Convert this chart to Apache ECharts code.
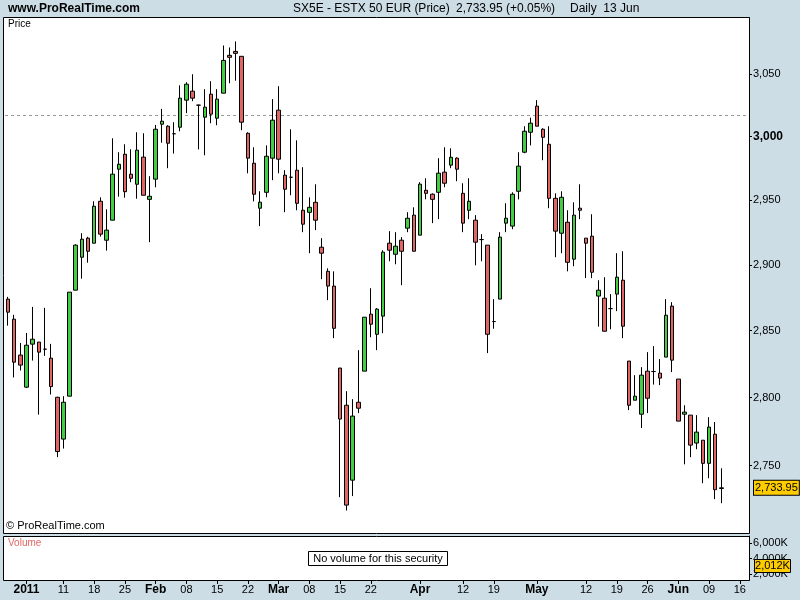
<!DOCTYPE html>
<html><head><meta charset="utf-8">
<script src="https://cdn.jsdelivr.net/npm/echarts@6/dist/echarts.min.js"></script>
<style>html,body{margin:0;padding:0;background:#CCDDE6}#c{width:800px;height:600px}</style>
</head><body><div id="c"></div>
<script>
const dates = ['2010-12-28','2010-12-29','2010-12-30','2011-01-03','2011-01-04','2011-01-05','2011-01-06','2011-01-07','2011-01-10','2011-01-11','2011-01-12','2011-01-13','2011-01-14','2011-01-17','2011-01-18','2011-01-19','2011-01-20','2011-01-21','2011-01-24','2011-01-25','2011-01-26','2011-01-27','2011-01-28','2011-01-31','2011-02-01','2011-02-02','2011-02-03','2011-02-04','2011-02-07','2011-02-08','2011-02-09','2011-02-10','2011-02-11','2011-02-14','2011-02-15','2011-02-16','2011-02-17','2011-02-18','2011-02-21','2011-02-22','2011-02-23','2011-02-24','2011-02-25','2011-02-28','2011-03-01','2011-03-02','2011-03-03','2011-03-04','2011-03-07','2011-03-08','2011-03-09','2011-03-10','2011-03-11','2011-03-14','2011-03-15','2011-03-16','2011-03-17','2011-03-18','2011-03-21','2011-03-22','2011-03-23','2011-03-24','2011-03-25','2011-03-28','2011-03-29','2011-03-30','2011-03-31','2011-04-01','2011-04-04','2011-04-05','2011-04-06','2011-04-07','2011-04-08','2011-04-11','2011-04-12','2011-04-13','2011-04-14','2011-04-15','2011-04-18','2011-04-19','2011-04-20','2011-04-21','2011-04-26','2011-04-27','2011-04-28','2011-04-29','2011-05-02','2011-05-03','2011-05-04','2011-05-05','2011-05-06','2011-05-09','2011-05-10','2011-05-11','2011-05-12','2011-05-13','2011-05-16','2011-05-17','2011-05-18','2011-05-19','2011-05-20','2011-05-23','2011-05-24','2011-05-25','2011-05-26','2011-05-27','2011-05-30','2011-05-31','2011-06-01','2011-06-02','2011-06-03','2011-06-06','2011-06-07','2011-06-08','2011-06-09','2011-06-10','2011-06-13'];
const futureDates = ['2011-06-14','2011-06-15','2011-06-16','2011-06-17'];

const opens  = [2873.8,2858.6,2831.6,2807.7,2839.8,2841.3,2836.0,2829.3,2800.2,2769.4,2801.0,2880.6,2905.8,2920.5,2916.6,2949.1,2918.9,2934.4,2974.2,2986.0,2970.3,2962.4,2983.7,2950.6,2966.4,3009.8,3008.2,3002.2,3007.4,3029.0,3036.2,3025.0,3015.4,3033.8,3014.6,3034.6,3065.1,3068.3,3064.3,3002.6,2978.9,2943.7,2956.1,2982.9,3021.0,2969.5,2967.9,2973.4,2942.1,2940.5,2948.3,2913.5,2895.0,2883.7,2821.9,2794.3,2739.5,2796.5,2819.6,2862.4,2847.2,2860.9,2916.6,2908.1,2918.9,2928.2,2938.3,2922.8,2957.7,2954.6,2956.1,2971.9,2977.4,2982.9,2955.3,2942.1,2934.4,2919.4,2915.1,2856.8,2873.8,2932.1,2929.8,2956.9,2987.6,3003.4,3024.2,3005.8,2993.9,2951.4,2924.3,2932.8,2904.3,2943.7,2920.5,2922.0,2876.1,2874.5,2866.6,2877.6,2888.2,2827.1,2798.0,2787.7,2819.6,2819.3,2818.1,2830.1,2868.5,2813.7,2787.7,2787.0,2766.5,2768.6,2751.7,2773.0,2733.5];
const highs  = [2875.5,2861.9,2840.7,2848.2,2867.9,2841.5,2867.2,2840.0,2800.5,2801.0,2879.1,2915.8,2924.3,2921.5,2949.1,2952.2,2942.9,2998.6,2987.6,2993.9,2989.9,3003.4,3002.6,2968.7,3009.2,3022.0,3009.0,3011.4,3040.9,3043.4,3049.8,3025.3,3037.8,3044.2,3037.8,3073.1,3071.5,3076.4,3064.3,3003.4,2991.5,2956.9,2993.0,3029.8,3040.2,2973.5,3005.8,2997.0,2975.8,2952.2,2962.4,2920.5,2897.3,2895.0,2822.0,2804.7,2798.8,2835.3,2860.1,2882.1,2867.0,2911.2,2925.9,2925.1,2921.3,2940.6,2944.4,2964.0,2967.1,2955.3,2982.9,2991.5,2990.7,2983.6,2963.2,2967.1,2938.3,2923.6,2915.1,2873.8,2925.1,2947.6,2956.1,2987.6,3008.2,3015.0,3029.0,3006.6,3008.2,2955.3,2956.9,2942.1,2948.3,2962.4,2920.5,2939.0,2888.2,2890.5,2877.6,2908.9,2910.4,2827.1,2816.6,2822.6,2833.8,2838.3,2828.6,2873.8,2871.5,2813.7,2794.3,2787.0,2787.0,2768.6,2785.5,2781.9,2748.1];
const lows   = [2853.7,2814.9,2820.1,2807.0,2827.5,2787.4,2831.0,2802.2,2756.2,2762.5,2801.0,2880.6,2889.4,2901.6,2916.6,2921.7,2910.9,2934.4,2952.7,2951.9,2964.0,2951.1,2953.8,2917.4,2960.0,2995.1,2975.0,2986.5,3004.2,3018.6,3028.2,2989.8,2985.2,3010.6,3009.0,3034.6,3042.6,3044.6,3005.0,2971.0,2949.0,2929.8,2952.2,2965.6,2971.0,2940.6,2953.8,2942.1,2925.1,2908.9,2926.7,2889.0,2873.0,2844.3,2727.2,2717.6,2728.0,2788.5,2819.6,2845.0,2835.3,2848.0,2902.7,2900.4,2884.4,2925.1,2910.4,2922.8,2950.6,2932.1,2935.2,2960.1,2975.0,2964.8,2925.1,2935.2,2899.6,2902.7,2833.1,2851.4,2873.8,2925.1,2927.4,2950.6,2986.8,2993.0,3008.2,2981.3,2943.7,2905.8,2908.9,2895.0,2898.9,2935.2,2889.8,2889.8,2853.0,2849.5,2851.0,2864.7,2844.3,2790.7,2798.0,2777.5,2788.5,2809.6,2809.2,2830.1,2818.9,2782.6,2751.0,2756.2,2762.0,2737.3,2740.9,2725.8,2722.9];
const closes = [2863.9,2826.3,2824.1,2839.0,2843.5,2833.8,2836.0,2808.1,2760.3,2796.5,2879.1,2915.1,2919.7,2910.4,2945.2,2923.6,2926.7,2970.3,2978.1,2956.6,2967.1,2989.2,2953.8,2953.0,3005.8,3012.2,2994.7,3002.2,3030.6,3041.8,3030.6,3025.0,3023.4,3017.8,3029.8,3061.0,3063.5,3066.7,3011.4,2982.9,2954.6,2948.4,2984.4,3013.0,2982.1,2958.5,2967.9,2947.5,2931.3,2944.4,2934.4,2908.9,2883.7,2851.7,2784.1,2721.5,2786.3,2792.1,2860.1,2854.8,2866.2,2909.7,2911.2,2914.3,2910.4,2935.9,2910.4,2962.5,2955.3,2950.6,2971.1,2963.2,2983.6,2974.2,2932.1,2949.1,2917.4,2919.4,2847.2,2856.8,2921.3,2935.9,2954.6,2976.6,3004.2,3010.6,3008.2,2999.4,2951.4,2925.9,2952.2,2901.9,2938.3,2942.1,2916.6,2894.3,2880.6,2849.5,2866.6,2890.5,2853.3,2794.3,2801.0,2816.6,2799.5,2819.3,2814.4,2861.6,2827.8,2782.6,2789.2,2765.0,2774.5,2751.7,2778.2,2732.6,2733.95];

const priceTicks = [2750, 2800, 2850, 2900, 2950, 3000, 3050];
const tickDates  = ['2011-01-03','2011-01-11','2011-01-18','2011-01-25','2011-02-01','2011-02-08','2011-02-15','2011-02-22','2011-03-01','2011-03-08','2011-03-15','2011-03-22','2011-04-01','2011-04-12','2011-04-19','2011-05-02','2011-05-12','2011-05-19','2011-05-26','2011-06-02','2011-06-09','2011-06-16'];
const tickLabels = ['2011','11','18','25','Feb','08','15','22','Mar','08','15','22','Apr','12','19','May','12','19','26','Jun','09','16'];
const boldLabels = ['2011','Feb','Mar','Apr','May','Jun'];
const lastPrice = 2733.95;
const refLevel = 3017;
const volumeTicks = [2000, 4000, 6000];
const lastVolumeText = '2,012K';

const fmt = v => String(v).replace(/\B(?=(\d{3})+(?!\d))/g, ',');
const fmt2 = v => { const p = v.toFixed(2).split('.'); return fmt(p[0]) + '.' + p[1]; };

const candles = dates.map((d, i) => [opens[i], closes[i], lows[i], highs[i]]);
const cats = dates.concat(futureDates);
const showTick = (idx, val) => tickDates.indexOf(val) >= 0;

const FONT = 'Liberation Sans, Arial, sans-serif';
const chart = echarts.init(document.getElementById('c'), null, {renderer: 'canvas'});
chart.setOption({
  backgroundColor: '#CCDDE6',
  animation: false,
  textStyle: {fontFamily: FONT},
  grid: [
    {left: 5, right: 51, top: 18, bottom: 67},
    {left: 5, right: 51, top: 536, bottom: 20}
  ],
  xAxis: [
    {type: 'category', gridIndex: 0, data: cats, show: false, boundaryGap: true},
    {type: 'category', gridIndex: 1, data: cats, boundaryGap: true,
     axisLine: {show: false},
     axisTick: {show: true, alignWithLabel: true, interval: showTick, length: 4, lineStyle: {color: '#000'}},
     axisLabel: {interval: showTick, margin: 4, color: '#000', fontSize: 11, fontFamily: FONT,
       formatter: v => { const t = tickLabels[tickDates.indexOf(v)]; return boldLabels.indexOf(t) >= 0 ? '{b|' + t + '}' : t; },
       rich: {b: {fontWeight: 'bold', fontSize: 12, color: '#000', fontFamily: FONT}}},
     splitLine: {show: false}}
  ],
  yAxis: [
    {type: 'log', logBase: 10, gridIndex: 0, position: 'right', min: 2701.5, max: 3095.5,
     axisLine: {show: true, lineStyle: {color: '#000'}},
     axisTick: {show: true, length: 3, customValues: priceTicks, lineStyle: {color: '#000'}},
     axisLabel: {customValues: priceTicks, margin: 4, color: '#000', fontSize: 11, fontFamily: FONT,
       formatter: v => Math.round(v) === 3000 ? '{b|3,000}' : fmt(Math.round(v)),
       rich: {b: {fontWeight: 'bold', fontSize: 12, color: '#000', fontFamily: FONT}}},
     splitLine: {show: false}},
    {type: 'value', gridIndex: 1, position: 'right', min: 1226, max: 6903,
     axisLine: {show: true, lineStyle: {color: '#000'}},
     axisTick: {show: true, length: 3, customValues: volumeTicks, lineStyle: {color: '#000'}},
     axisLabel: {customValues: volumeTicks, margin: 4, color: '#000', fontSize: 11, fontFamily: FONT,
       formatter: v => fmt(Math.round(v)) + 'K'},
     splitLine: {show: false}}
  ],
  graphic: [
    {type: 'rect', z: 0, shape: {x: 3.5, y: 17.5, width: 746, height: 516}, style: {fill: '#fff', stroke: '#000', lineWidth: 1}},
    {type: 'rect', z: 0, shape: {x: 3.5, y: 536.5, width: 746, height: 44}, style: {fill: '#fff', stroke: '#000', lineWidth: 1}},
    {type: 'text', z: 100, left: 8, top: 3, style: {text: 'www.ProRealTime.com', fill: '#000', font: 'bold 12px ' + FONT}},
    {type: 'text', z: 100, left: 293, top: 3, style: {text: 'SX5E - ESTX 50 EUR (Price)', fill: '#000', font: '12px ' + FONT}},
    {type: 'text', z: 100, left: 456, top: 3, style: {text: fmt2(lastPrice) + ' (+0.05%)', fill: '#000', font: '12px ' + FONT}},
    {type: 'text', z: 100, left: 570, top: 3, style: {text: 'Daily  13 Jun', fill: '#000', font: '12px ' + FONT}},
    {type: 'text', z: 100, left: 8, top: 19, style: {text: 'Price', fill: '#000', font: '10px ' + FONT}},
    {type: 'text', z: 100, left: 6, top: 520, style: {text: '\u00A9 ProRealTime.com', fill: '#000', font: '11px ' + FONT}},
    {type: 'text', z: 100, left: 8, top: 538, style: {text: 'Volume', fill: '#E06666', font: '10px ' + FONT}},
    {type: 'rect', z: 100, shape: {x: 308.5, y: 551.5, width: 139, height: 14}, style: {fill: '#fff', stroke: '#000', lineWidth: 1}},
    {type: 'text', z: 101, x: 378, y: 559, style: {text: 'No volume for this security', fill: '#000', font: '11px ' + FONT, align: 'center', verticalAlign: 'middle'}},
    {type: 'rect', z: 100, shape: {x: 754.5, y: 559.5, width: 36, height: 13}, style: {fill: '#FFCC00', stroke: '#000', lineWidth: 1}},
    {type: 'text', z: 101, x: 772.5, y: 566, style: {text: lastVolumeText, fill: '#000', font: '11px ' + FONT, align: 'center', verticalAlign: 'middle'}}
  ],
  series: [
    {type: 'candlestick', xAxisIndex: 0, yAxisIndex: 0, data: candles, barWidth: 4, z: 5,
     itemStyle: {color: '#44CC44', color0: '#E06666', borderColor: '#000', borderColor0: '#000', borderColorDoji: '#000', borderWidth: 1},
     markLine: {symbol: 'none', silent: true, animation: false,
       data: [
         {yAxis: refLevel, lineStyle: {type: [3, 3], color: '#999', width: 1}, label: {show: false}},
         {yAxis: lastPrice, lineStyle: {color: 'rgba(0,0,0,0)', width: 1, type: 'solid'},
          label: {show: true, position: 'end', distance: 5, formatter: fmt2(lastPrice), opacity: 1,
           backgroundColor: '#FFCC00', borderColor: '#000', borderWidth: 1, padding: [2, 1, 1, 1], color: '#000', fontSize: 11, fontFamily: FONT}}
       ]}},
    {type: 'line', xAxisIndex: 1, yAxisIndex: 1, data: []}
  ]
});
</script></body></html>
